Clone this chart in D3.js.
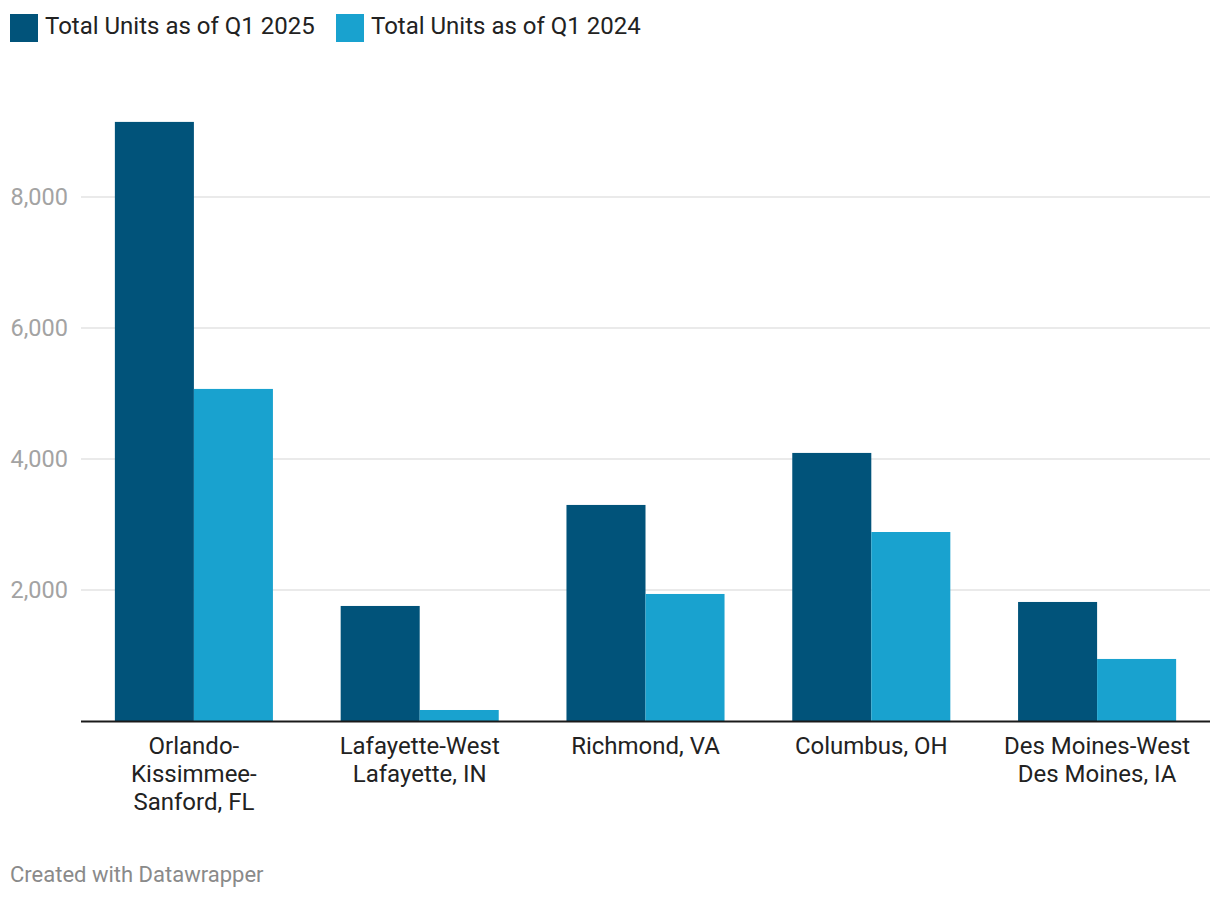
<!DOCTYPE html>
<html>
<head>
<meta charset="utf-8">
<script src="https://cdn.jsdelivr.net/npm/d3@7"></script>
<style>
  html, body { margin: 0; padding: 0; background: #fff; }
  svg { display: block; font-family: Roboto, "Noto Sans", sans-serif; }
</style>
</head>
<body>
<svg id="chart" width="1220" height="900"></svg>
<script>
const categories = [
  ["Orlando-", "Kissimmee-", "Sanford, FL"],
  ["Lafayette-West", "Lafayette, IN"],
  ["Richmond, VA"],
  ["Columbus, OH"],
  ["Des Moines-West", "Des Moines, IA"]
];
const seriesNames = ["Total Units as of Q1 2025", "Total Units as of Q1 2024"];
const units2025 = [9145, 1756, 3298, 4092, 1817];
const units2024 = [5069, 168, 1939, 2885, 947];
const yTicks = [2000, 4000, 6000, 8000];
const colors = ["#01537a", "#19a2cf"];

const svg = d3.select("#chart");
const mLeft = 81, mRight = 1210, mTop = 60, mBottom = 721;

const catIdx = categories.map((d, i) => i);
const x0 = d3.scaleBand().domain(catIdx).range([mLeft, mRight]).paddingInner(0.3).paddingOuter(0.15);
const x1 = d3.scaleBand().domain([0, 1]).range([0, x0.bandwidth()]);
const y = d3.scaleLinear().domain([0, 10090]).range([mBottom, mTop]);

// gridlines
svg.append("g").selectAll("line").data(yTicks).join("line")
  .attr("x1", mLeft).attr("x2", mRight)
  .attr("y1", d => y(d)).attr("y2", d => y(d))
  .attr("stroke", "#e3e3e3").attr("stroke-width", 1.5);

// y tick labels
svg.append("g").selectAll("text").data(yTicks).join("text")
  .attr("x", 68).attr("y", d => y(d)).attr("dy", "0.36em")
  .attr("text-anchor", "end").attr("fill", "#a3a3a3")
  .attr("font-size", 23.5)
  .text(d => d3.format(",")(d));

// bars
const series = [units2025, units2024];
const g = svg.append("g");
series.forEach((vals, s) => {
  g.selectAll(null).data(vals).join("rect")
    .attr("x", (d, i) => x0(i) + x1(s))
    .attr("width", x1.bandwidth())
    .attr("y", d => y(d))
    .attr("height", d => y(0) - y(d))
    .attr("fill", colors[s]);
});

// baseline
svg.append("line").attr("x1", mLeft).attr("x2", mRight)
  .attr("y1", y(0) + 0.5).attr("y2", y(0) + 0.5)
  .attr("stroke", "#1a1a1a").attr("stroke-width", 2);

// x labels
const xl = svg.append("g").selectAll("text").data(categories).join("text")
  .attr("text-anchor", "middle").attr("fill", "#222")
  .attr("font-size", 24)
  .attr("x", (d, i) => x0(i) + x0.bandwidth() / 2)
  .attr("y", 754);
xl.selectAll("tspan").data(d => d).join("tspan")
  .attr("x", function() { return d3.select(this.parentNode).attr("x"); })
  .attr("dy", (d, i) => i === 0 ? 0 : 28)
  .text(d => d);

// legend
const legendX = [10, 336];
seriesNames.forEach((name, i) => {
  svg.append("rect").attr("x", legendX[i]).attr("y", 14).attr("width", 28).attr("height", 28).attr("fill", colors[i]);
  svg.append("text").attr("x", legendX[i] + 35).attr("y", 34)
    .attr("font-size", 24).attr("fill", "#222").text(name);
});

// footer
svg.append("text").attr("x", 10).attr("y", 882)
  .attr("font-size", 22).attr("fill", "#8a8a8a").text("Created with Datawrapper");
</script>
</body>
</html>
